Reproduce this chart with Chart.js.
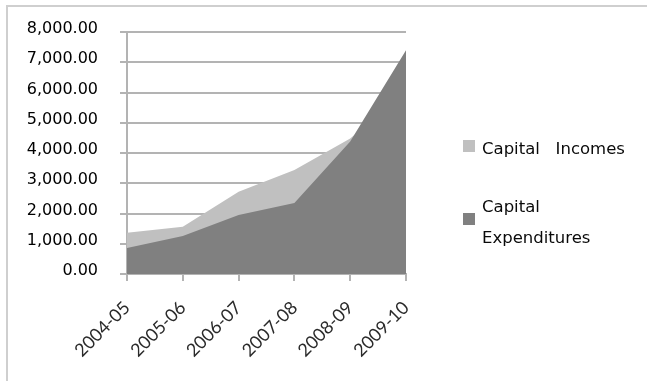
<!DOCTYPE html>
<html>
<head>
<meta charset="utf-8">
<style>
  html, body { margin: 0; padding: 0; background: #fff; }
  #wrap { position: relative; width: 647px; height: 381px; }
</style>
<script src="https://cdn.jsdelivr.net/npm/chart.js@4/dist/chart.umd.min.js"></script>
</head>
<body>
<div id="wrap"><canvas id="chart" width="647" height="381"></canvas></div>
<script>
  "use strict";

  var years = ["2004-05", "2005-06", "2006-07", "2007-08", "2008-09", "2009-10"];
  var capitalIncomes = [1360, 1560, 2720, 3440, 4480, 6050];
  var capitalExpenditures = [860, 1260, 1950, 2350, 4380, 7400];
  var yTicks = [0, 1000, 2000, 3000, 4000, 5000, 6000, 7000, 8000];
  var incomesLegend = ["Capital   Incomes"];
  var expendituresLegend = ["Capital", "Expenditures"];

  var gridGrey = "#b3b3b3";

  // frame line along the top and left edges
  var framePlugin = {
    id: "frame",
    beforeDraw: function (chart) {
      var ctx = chart.ctx;
      ctx.save();
      ctx.strokeStyle = "#cfcfcf";
      ctx.lineWidth = 2;
      ctx.beginPath();
      ctx.moveTo(7, 381);
      ctx.lineTo(7, 6);
      ctx.lineTo(647, 6);
      ctx.stroke();
      ctx.restore();
    }
  };

  // legend on the right, with wrapped text
  var sideLegend = {
    id: "sideLegend",
    afterDraw: function (chart) {
      var ctx = chart.ctx;
      var boxes = [
        { lines: incomesLegend, top: 140 },
        { lines: expendituresLegend, top: 213 }
      ];
      ctx.save();
      ctx.font = "16.5px 'DejaVu Sans'";
      ctx.textBaseline = "middle";
      chart.data.datasets.forEach(function (ds, i) {
        var b = boxes[i];
        ctx.fillStyle = ds.backgroundColor;
        ctx.fillRect(463, b.top, 12, 12);
        ctx.fillStyle = "#0a0a0a";
        var firstY = b.lines.length > 1 ? b.top - 5 : b.top + 10;
        b.lines.forEach(function (line, k) {
          ctx.fillText(line, 482, firstY + k * 31);
        });
      });
      ctx.restore();
    }
  };

  new Chart(document.getElementById("chart"), {
    type: "line",
    data: {
      labels: years,
      datasets: [
        {
          label: incomesLegend.join(" "),
          data: capitalIncomes,
          backgroundColor: "#c0c0c0",
          borderWidth: 0,
          pointRadius: 0,
          fill: "origin",
          order: 1
        },
        {
          label: expendituresLegend.join(" "),
          data: capitalExpenditures,
          backgroundColor: "#808080",
          borderWidth: 0,
          pointRadius: 0,
          fill: "origin",
          order: 0
        }
      ]
    },
    options: {
      responsive: false,
      animation: false,
      layout: { padding: { left: 0, right: 241, top: 32, bottom: 0 } },
      plugins: {
        legend: { display: false },
        tooltip: { enabled: false }
      },
      scales: {
        x: {
          offset: false,
          grid: { drawOnChartArea: false, color: gridGrey, lineWidth: 2, tickLength: 7 },
          border: { color: gridGrey, width: 2 },
          ticks: {
            color: "#2a2a2a",
            font: { family: "Lato", size: 18 },
            minRotation: 45,
            maxRotation: 45,
            padding: 16
          },
          afterFit: function (scale) { scale.height = 107; }
        },
        y: {
          min: 0,
          max: 8000,
          afterBuildTicks: function (scale) {
            scale.ticks = yTicks.map(function (v) { return { value: v }; });
          },
          grid: { color: gridGrey, lineWidth: 2, tickLength: 7 },
          border: { color: gridGrey, width: 2 },
          ticks: {
            color: "#000",
            font: { family: "DejaVu Sans", size: 16 },
            padding: 22,
            labelOffset: -3,
            callback: function (v) {
              return Number(v).toLocaleString("en-US", { minimumFractionDigits: 2, maximumFractionDigits: 2 });
            }
          },
          afterFit: function (scale) { scale.width = 127; }
        }
      }
    },
    plugins: [framePlugin, sideLegend]
  });
</script>
</body>
</html>
